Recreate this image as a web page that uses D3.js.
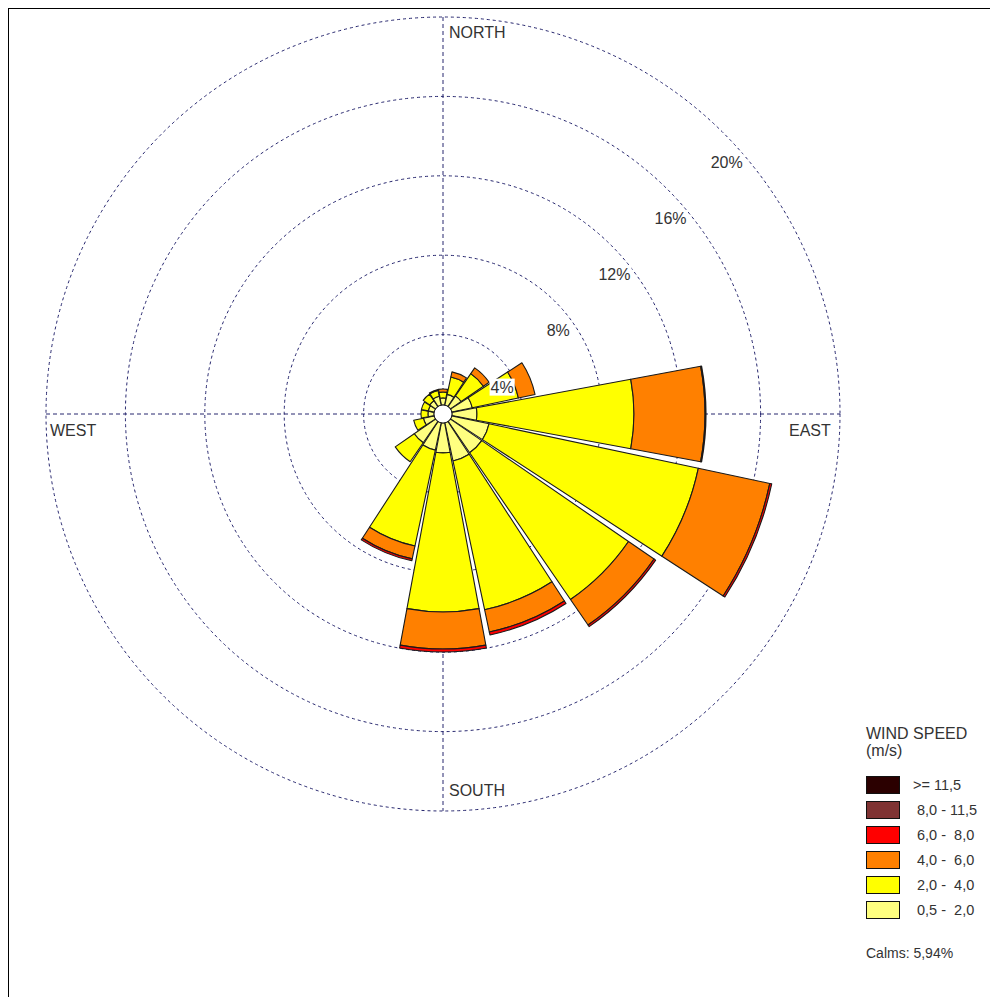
<!DOCTYPE html>
<html>
<head>
<meta charset="utf-8">
<script src="https://cdn.jsdelivr.net/npm/d3@7"></script>
<style>
  html, body { margin: 0; padding: 0; background: #fff; }
  svg { display: block; }
  text { font-family: "Liberation Sans", Arial, sans-serif; fill: #333; white-space: pre; }
</style>
</head>
<body>
<svg id="rose" width="990" height="997"></svg>
<script>
// Wind directions, clockwise from north
const directions = ["N", "NNE", "NE", "ENE", "E", "ESE", "SE", "SSE",
                    "S", "SSW", "SW", "WSW", "W", "WNW", "NW", "NNW"];

// Frequency (%) of each speed class per direction
const freq05to2  = [0.81, 1.01, 1.11, 1.51, 1.71, 2.37, 2.37, 2.42, 1.96, 1.86, 1.76, 1.01, 0.76, 0.76, 0.81, 0.91];
const freq2to4   = [0.30, 0.90, 1.36, 2.37, 7.91, 10.78, 8.97, 7.66, 8.01, 4.94, 1.16, 0.50, 0.35, 0.35, 0.40, 0.30];
const freq4to6   = [0.15, 0.26, 0.35, 0.86, 3.58, 3.68, 1.56, 1.15, 1.87, 0.66, 0, 0, 0, 0, 0, 0.05];
const freq6to8   = [0, 0, 0, 0, 0.05, 0.10, 0.10, 0.15, 0.15, 0.10, 0, 0, 0, 0, 0, 0];
const freq8to115 = [0, 0, 0, 0, 0, 0, 0, 0, 0, 0, 0, 0, 0, 0, 0, 0];
const freq115up  = [0, 0, 0, 0, 0, 0, 0, 0, 0, 0, 0, 0, 0, 0, 0, 0];

// Speed classes, from slowest to fastest
const speedClasses = ["0,5 -  2,0", "2,0 -  4,0", "4,0 -  6,0", "6,0 -  8,0", "8,0 - 11,5", ">= 11,5"];
const classFreqs = [freq05to2, freq2to4, freq4to6, freq6to8, freq8to115, freq115up];

// Ring ticks (%) and compass labels
const ringTicks = [4, 8, 12, 16, 20];
const ringLabels = ["4%", "8%", "12%", "16%", "20%"];
const compassLabels = ["NORTH", "EAST", "SOUTH", "WEST"];

const legendTitle = ["WIND SPEED", "(m/s)"];
const calmsText = "Calms: 5,94%";

// ---- styles & layout ----
const classColors = ["#ffff80", "#ffff00", "#ff8000", "#ff0000", "#7f3333", "#2b0000"];
const gridColor = "#26266e";
const cx = 443, cy = 414;
const calmR = 9;
const halfWidth = 10.5 * Math.PI / 180;

const svg = d3.select("#rose");

// outer frame
svg.append("rect").attr("x", 8.5).attr("y", 8.5).attr("width", 1000).attr("height", 1000)
  .attr("fill", "none").attr("stroke", "#000").attr("stroke-width", 1);

const r = d3.scaleLinear().domain([0, 20]).range([0, 397]);
const angle = d3.scaleBand().domain(directions).range([0, 2 * Math.PI]).align(0);
const dirAngle = d => angle(d);  // centre of each petal

const g = svg.append("g").attr("transform", `translate(${cx},${cy})`);

// dashed rings
g.selectAll("circle.ring").data(ringTicks).join("circle")
  .attr("class", "ring")
  .attr("r", d => r(d))
  .attr("fill", "none")
  .attr("stroke", gridColor)
  .attr("stroke-width", 1)
  .attr("stroke-dasharray", "3,3");

// dashed axes
const rMax = r(20);
g.append("line").attr("x1", -rMax).attr("x2", rMax).attr("y1", 0).attr("y2", 0)
  .attr("stroke", gridColor).attr("stroke-dasharray", "4,3");
g.append("line").attr("x1", 0).attr("x2", 0).attr("y1", -rMax).attr("y2", rMax)
  .attr("stroke", gridColor).attr("stroke-dasharray", "4,3");

// petal segments stacked outward
const segments = [];
directions.forEach((dir, i) => {
  let cum = 0;
  classFreqs.forEach((arr, k) => {
    const v = arr[i];
    if (v > 0) {
      segments.push({ dir, k, inner: cum, outer: cum + v });
    }
    cum += v;
  });
});

const arc = d3.arc()
  .innerRadius(d => Math.max(calmR, r(d.inner)))
  .outerRadius(d => r(d.outer))
  .startAngle(d => dirAngle(d.dir) - halfWidth)
  .endAngle(d => dirAngle(d.dir) + halfWidth);

g.selectAll("path.seg").data(segments).join("path")
  .attr("class", "seg")
  .attr("d", arc)
  .attr("fill", d => classColors[d.k])
  .attr("stroke", "#1a1a1a")
  .attr("stroke-width", 1.1)
  .attr("stroke-linejoin", "round");

// calm circle
g.append("circle").attr("r", calmR).attr("fill", "#fff").attr("stroke", "#222").attr("stroke-width", 1);

// ring labels
const ringLabelG = g.selectAll("g.rl").data(ringTicks).join("g")
  .attr("class", "rl")
  .attr("transform", d => `translate(${r(d) * Math.SQRT1_2 + 3},${-r(d) * Math.SQRT1_2 + 29})`);
ringLabelG.append("text")
  .attr("text-anchor", "middle")
  .attr("dy", "0.36em")
  .attr("font-size", 16)
  .text((d, i) => ringLabels[i]);
ringLabelG.each(function () {
  const t = d3.select(this).select("text").node().getBBox();
  d3.select(this).insert("rect", "text")
    .attr("x", t.x - 1).attr("y", t.y).attr("width", t.width + 2).attr("height", t.height)
    .attr("fill", "#fff");
});

// compass labels
const compassPos = [
  { x: 6, y: -rMax + 21 },
  { x: rMax - 51, y: 22 },
  { x: 6, y: rMax - 15 },
  { x: -rMax + 4, y: 22 }
];
g.selectAll("text.compass").data(compassLabels).join("text")
  .attr("class", "compass")
  .attr("x", (d, i) => compassPos[i].x)
  .attr("y", (d, i) => compassPos[i].y)
  .attr("font-size", 16)
  .text(d => d);

// legend
const lg = svg.append("g").attr("transform", "translate(866,0)");
lg.selectAll("text.title").data(legendTitle).join("text")
  .attr("class", "title")
  .attr("x", 0).attr("y", (d, i) => 739 + i * 17)
  .attr("font-size", 16)
  .text(d => d);

const legendOrder = speedClasses.map((s, k) => k).reverse();
const rowY = d3.scaleBand().domain(legendOrder).range([776, 776 + 6 * 25]).align(0);
const rows = lg.selectAll("g.row").data(legendOrder).join("g")
  .attr("class", "row")
  .attr("transform", d => `translate(0,${rowY(d)})`);
rows.append("rect")
  .attr("x", 0.5).attr("y", 0.5).attr("width", 33).attr("height", 17)
  .attr("fill", d => classColors[d]).attr("stroke", "#111");
rows.append("text")
  .attr("x", d => d === 5 ? 47 : 51)
  .attr("y", 14)
  .attr("font-size", 14.5)
  .text(d => speedClasses[d]);

lg.append("text").attr("x", 0).attr("y", 958).attr("font-size", 14).text(calmsText);
</script>
</body>
</html>
